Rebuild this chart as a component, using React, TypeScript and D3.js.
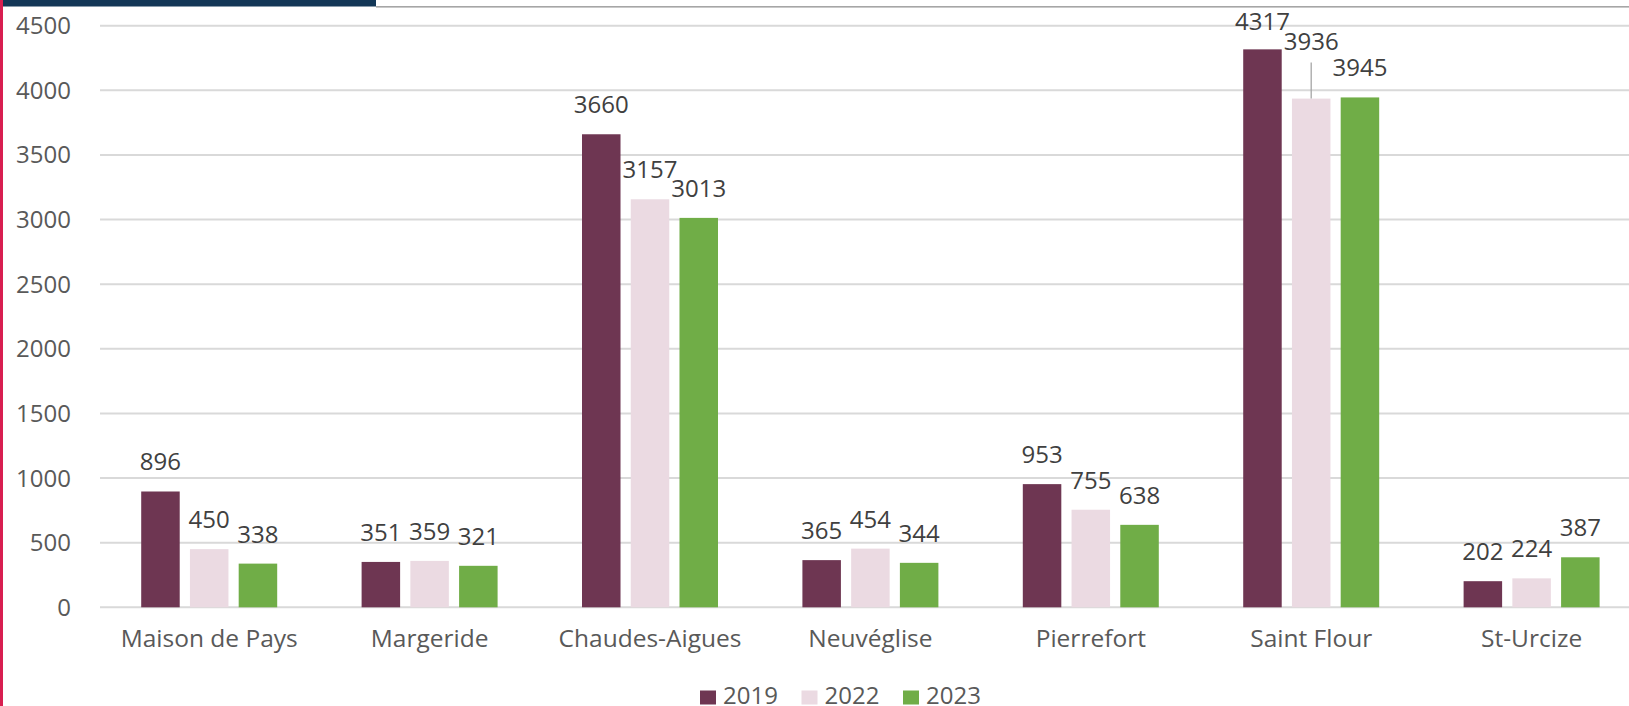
import React from "react";
import * as d3 from "d3";

const categories = ["Maison de Pays", "Margeride", "Chaudes-Aigues", "Neuvéglise", "Pierrefort", "Saint Flour", "St-Urcize"];
const seriesNames = ["2019", "2022", "2023"];
const values2019 = [896, 351, 3660, 365, 953, 4317, 202];
const values2022 = [450, 359, 3157, 454, 755, 3936, 224];
const values2023 = [338, 321, 3013, 344, 638, 3945, 387];
const yTicks = [0, 500, 1000, 1500, 2000, 2500, 3000, 3500, 4000, 4500];
const colors = ["#6e3652", "#ebdae2", "#70ad47"];

const W = 1629;
const H = 706;
const FONT = "'Open Sans', 'Noto Sans', sans-serif";

export default function App() {
  const seriesValues = [values2019, values2022, values2023];
  const plotLeft = 99;
  const plotRight = 99 + 7 * 220.4;
  const x0 = d3.scaleBand<string>().domain(categories).range([plotLeft, plotRight]).paddingInner(0).paddingOuter(0);
  const groupW = x0.bandwidth() * 0.617;
  const x1 = d3.scaleBand<string>().domain(seriesNames).range([0, groupW]).paddingInner(0.21).paddingOuter(0);
  const y = d3.scaleLinear().domain([0, 4500]).range([607.3, 25.7]);
  const digitW = 14.3;

  const labels: any[] = [];
  categories.forEach((cat, ci) => {
    const group: any[] = [];
    seriesNames.forEach((s, si) => {
      const v = seriesValues[si][ci];
      const bx = (x0(cat) as number) + (x0.bandwidth() - groupW) / 2 + (x1(s) as number);
      const cx = bx + x1.bandwidth() / 2;
      const base = Math.max(30, y(v) - 21);
      const txt = String(v);
      group.push({ key: cat + s, cx, base, txt, top: y(v), w: txt.length * digitW, leader: false });
    });
    for (let i = group.length - 2; i >= 0; i--) {
      const a = group[i];
      const b = group[i + 1];
      const hOverlap = a.cx + a.w / 2 > b.cx - b.w / 2;
      if (hOverlap && Math.abs(a.base - b.base) < 16) {
        a.base = b.base - 26;
        a.leader = true;
      }
    }
    labels.push(...group);
  });

  return (
    <svg width={W} height={H} style={{ position: "absolute", left: 0, top: 0, background: "#fff" }} fontFamily={FONT}>
      <rect x={0} y={0} width={W} height={H} fill="#ffffff" />
      {/* decorations */}
      <rect x={376} y={6} width={W - 376} height={1.6} fill="#a6a6a6" />
      <rect x={3} y={0} width={373} height={6.5} fill="#133757" />
      <rect x={0} y={0} width={3} height={H} fill="#d81e50" />

      {/* gridlines */}
      {yTicks.map((t) => (
        <line key={"g" + t} x1={100} x2={W} y1={y(t)} y2={y(t)} stroke="#d9d9d9" strokeWidth={2} />
      ))}
      {/* y tick labels */}
      {yTicks.map((t) => (
        <text key={"yt" + t} x={71} y={y(t) + 8.5} textAnchor="end" fontSize={24} fill="#595959">
          {t}
        </text>
      ))}

      {/* bars */}
      {categories.map((cat, ci) => (
        <g key={cat} transform={`translate(${(x0(cat) as number) + (x0.bandwidth() - groupW) / 2},0)`}>
          {seriesNames.map((s, si) => {
            const v = seriesValues[si][ci];
            return (
              <rect
                key={s}
                x={x1(s) as number}
                y={y(v)}
                width={x1.bandwidth()}
                height={y(0) - y(v)}
                fill={colors[si]}
              />
            );
          })}
        </g>
      ))}

      {/* data labels */}
      {labels.map((l) => (
        <g key={"l" + l.key}>
          {l.leader && (
            <line x1={l.cx} x2={l.cx} y1={l.base + 12} y2={l.top} stroke="#a6a6a6" strokeWidth={1.3} />
          )}
          <text x={l.cx} y={l.base} textAnchor="middle" fontSize={24} fill="#404040">
            {l.txt}
          </text>
        </g>
      ))}

      {/* x labels */}
      {categories.map((cat) => (
        <text
          key={"x" + cat}
          x={(x0(cat) as number) + x0.bandwidth() / 2}
          y={647}
          textAnchor="middle"
          fontSize={24.5}
          fill="#595959"
        >
          {cat}
        </text>
      ))}

      {/* legend */}
      {seriesNames.map((s, si) => {
        const lx = 700 + si * 101.5;
        return (
          <g key={"leg" + s}>
            <rect x={lx} y={690.5} width={16} height={14} fill={colors[si]} />
            <text x={lx + 23} y={704} fontSize={24} fill="#595959">
              {s}
            </text>
          </g>
        );
      })}
    </svg>
  );
}
